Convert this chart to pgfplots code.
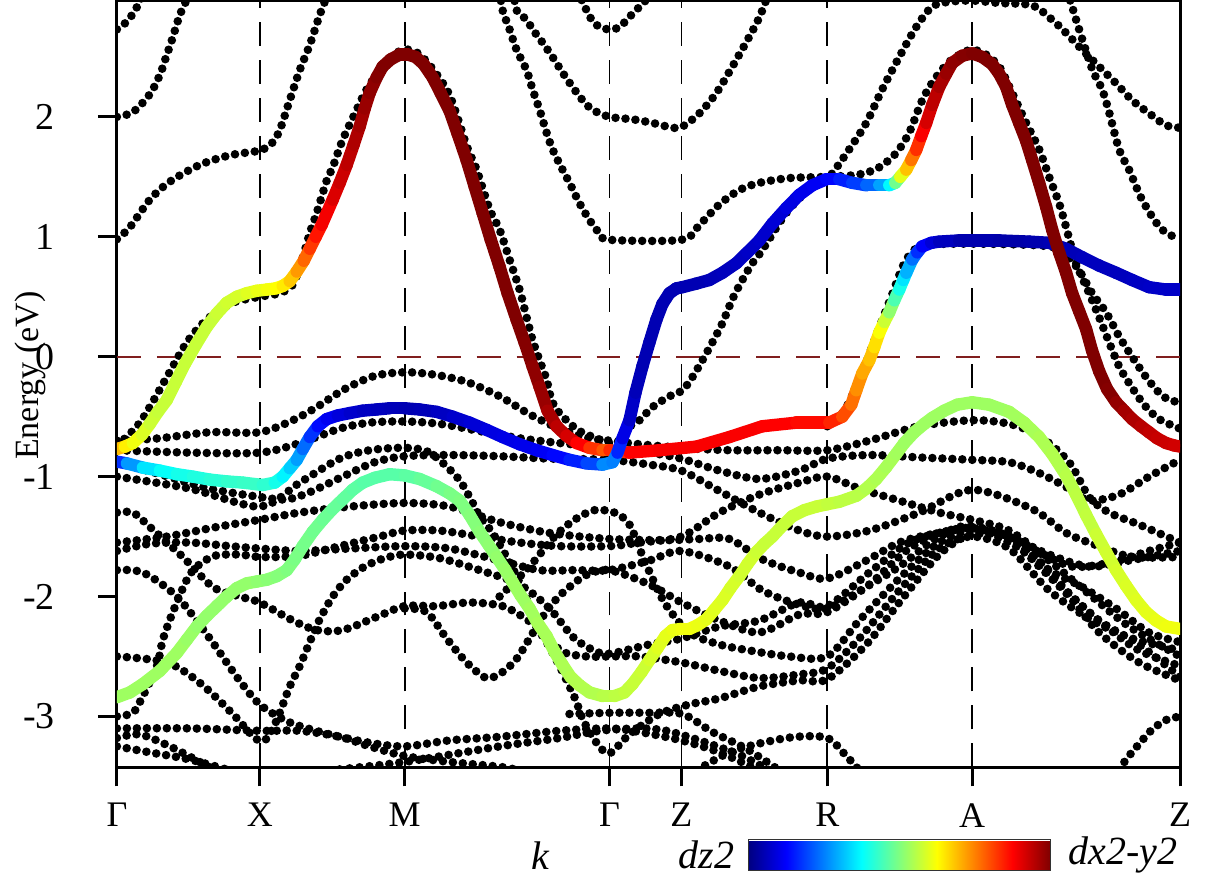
\documentclass[border=0pt]{standalone}
\usepackage{fontspec}
\setmainfont{Liberation Serif}
\usepackage{pgfplots}
\pgfplotsset{compat=1.18}
\definecolor{zerored}{RGB}{128,30,30}
\pgfplotsset{bd/.style={black, line width=4.3pt, line cap=round, dash pattern=on 0pt off 5pt, smooth}}
\pgfplotsset{cb/.style={mesh, point meta=explicit, line width=6.2pt, line cap=round, line join=round}}
\begin{document}
\begin{tikzpicture}
\begin{axis}[
  scale only axis, width=532pt, height=384pt,
  xmin=117, xmax=1181, ymin=-3.425, ymax=2.975,
  xtick={117,260,405,610,682,828,973,1181},
  xticklabels={Γ,X,M,Γ,Z,R,A,Z},
  ytick={-3,-2,-1,0,1,2},
  yticklabels={-3,-2,-1,0,1,2},
  xtick pos=bottom, ytick pos=left,
  tick align=outside, major tick length=9.5pt,
  tick style={line width=1.5pt, black},
  axis line style={line width=1.5pt},
  xticklabel style={font=\fontsize{18}{20}\selectfont, yshift=-5pt},
  yticklabel style={font=\fontsize{19}{21}\selectfont, xshift=-18pt},
  xmajorgrids=true,
  major grid style={dash pattern=on 12pt off 7pt, line width=0.9pt, black},
  colormap/jet,
  point meta min=0, point meta max=1,
  colorbar horizontal,
  colorbar style={
    at={(parent axis.south west)},
    anchor=north west, xshift=316pt, yshift=-27.5pt,
    scale only axis,
    width=151pt, height=15.5pt,
    xtick=\empty,
    axis line style={line width=0.6pt, black!80},
  },
]
\coordinate (bl) at (rel axis cs:0,0);
\addplot[zerored, line width=0.9pt, dash pattern=on 12pt off 8pt] coordinates {(117,0) (1181,0)};

% ---------- upper black bands
\addplot[bd] coordinates {(117,2.73) (125,2.78) (133,2.86) (141,2.98) (143,3.05)};
\addplot[bd] coordinates {(117,2.0) (133,2.04) (150,2.19) (160,2.35) (165,2.47) (172,2.64) (180,2.85) (187,2.98) (190,3.05)};
\addplot[bd] coordinates {(117,0.98) (130,1.08) (150,1.31) (170,1.46) (200,1.6) (230,1.68) (260,1.72) (272,1.78) (280,1.89) (290,2.14) (300,2.39) (310,2.6) (320,2.85) (326,2.98) (330,3.05)};
\addplot[bd] coordinates {(117,-0.74) (140,-0.55) (167,-0.17) (187,0.12) (207,0.31) (233,0.45) (260,0.5) (280,0.53) (293,0.6) (302,0.8) (310,1.03) (317,1.2) (327,1.47) (333,1.58) (343,1.81) (357,2.06) (367,2.23) (383,2.42) (400,2.55) (410,2.56) (420,2.52) (433,2.4) (450,2.18) (467,1.76) (477,1.56) (490,1.23) (500,1.06) (510,0.81) (520,0.56) (527,0.33) (533,0.14) (540,-0.03) (547,-0.19) (552,-0.36) (560,-0.47) (580,-0.62) (610,-0.72)};
\addplot[bd] coordinates {(500,3.05) (503,2.89) (510,2.73) (517,2.56) (527,2.39) (533,2.23) (540,2.06) (547,1.87) (553,1.73) (563,1.56) (570,1.45) (580,1.28) (590,1.14) (600,1.03) (610,0.975) (682,0.975) (700,1.1) (720,1.27) (740,1.39) (760,1.45) (790,1.49) (828,1.5) (860,1.52) (880,1.58) (897,1.7) (910,1.87) (923,2.14) (935,2.31) (950,2.46) (965,2.54) (973,2.56) (985,2.53) (1000,2.42) (1013,2.2) (1027,1.95) (1040,1.73) (1050,1.5) (1060,1.28) (1067,1.08) (1077,0.78) (1090,0.53) (1100,0.33) (1110,0.12) (1120,-0.08) (1130,-0.22) (1145,-0.4) (1160,-0.52) (1181,-0.6)};
\addplot[bd] coordinates {(514,3.05) (517,2.89) (527,2.81) (533,2.73) (543,2.62) (553,2.5) (563,2.37) (573,2.25) (583,2.14) (593,2.06) (610,2.0) (633,1.98) (653,1.95) (673,1.91) (683,1.92) (700,2.03) (717,2.2) (733,2.42) (750,2.67) (760,2.83) (767,2.98) (769,3.05)};
\addplot[bd] coordinates {(578,3.05) (587,2.89) (593,2.8) (600,2.75) (610,2.73) (620,2.75) (633,2.86) (647,2.98) (650,3.05)};
\addplot[bd] coordinates {(610,-0.85) (625,-0.62) (640,-0.53) (653,-0.42) (670,-0.33) (683,-0.28) (693,-0.17) (703,-0.03) (713,0.12) (723,0.28) (733,0.48) (743,0.64) (753,0.78) (763,0.89) (787,1.2) (810,1.4) (828,1.5) (833,1.53) (850,1.73) (867,1.95) (883,2.23) (900,2.5) (917,2.75) (933,2.92) (950,2.96) (973,2.97) (1000,2.95) (1033,2.93) (1053,2.81) (1067,2.7) (1083,2.56) (1100,2.42) (1117,2.28) (1133,2.14) (1150,2.03) (1167,1.93) (1181,1.91)};
\addplot[bd] coordinates {(1068,3.05) (1073,2.92) (1080,2.73) (1093,2.4) (1103,2.23) (1110,2.04) (1120,1.73) (1130,1.56) (1137,1.42) (1143,1.31) (1153,1.17) (1163,1.06) (1177,0.99) (1181,0.98)};
\addplot[bd] coordinates {(828,-0.58) (845,-0.45) (862,-0.15) (878,0.2) (892,0.5) (905,0.78) (918,0.91) (940,0.94) (1000,0.94) (1050,0.92) (1067,0.85) (1080,0.72) (1093,0.53) (1107,0.37) (1120,0.17) (1133,0.0) (1147,-0.17) (1160,-0.3) (1170,-0.36) (1181,-0.38)};

% ---------- lower black bands
\addplot[bd] coordinates {(117,-0.70) (160,-0.68) (210,-0.63) (260,-0.63) (293,-0.53) (317,-0.42) (345,-0.27) (375,-0.16) (405,-0.13) (435,-0.15) (467,-0.21) (500,-0.33) (530,-0.48) (560,-0.6) (590,-0.68) (610,-0.70) (640,-0.73) (682,-0.76) (730,-0.78) (780,-0.78) (828,-0.78) (870,-0.7) (920,-0.58) (973,-0.53) (1010,-0.56) (1040,-0.66) (1070,-0.88) (1090,-1.17) (1110,-1.3) (1140,-1.4) (1181,-1.55)};
\addplot[bd] coordinates {(117,-0.78) (190,-0.80) (260,-0.80) (300,-0.72) (340,-0.6) (370,-0.55) (405,-0.54) (440,-0.56) (480,-0.62) (520,-0.68) (560,-0.72) (610,-0.76) (650,-0.8) (682,-0.85) (720,-0.95) (760,-1.02) (800,-0.95) (828,-0.85) (870,-0.82) (920,-0.84) (973,-0.86) (1010,-0.88) (1040,-0.97) (1070,-1.1) (1090,-1.2) (1120,-1.15) (1150,-1.0) (1181,-0.86)};
\addplot[bd] coordinates {(117,-0.88) (160,-0.98) (210,-1.1) (260,-1.17) (287,-1.19) (310,-1.13) (343,-1.0) (375,-0.88) (405,-0.83) (450,-0.82) (500,-0.83) (550,-0.85) (610,-0.86) (650,-0.9) (682,-0.95) (720,-1.12) (760,-1.3) (800,-1.45) (828,-1.5) (870,-1.45) (920,-1.3) (973,-1.11) (1033,-1.27) (1067,-1.47) (1100,-1.58) (1133,-1.67) (1181,-1.67)};
\addplot[bd] coordinates {(117,-1.0) (190,-1.1) (260,-1.25) (300,-1.05) (340,-0.85) (370,-0.78) (405,-0.76) (430,-0.8) (457,-1.0) (470,-1.17) (480,-1.33) (493,-1.47) (507,-1.67) (517,-1.83) (527,-2.02) (537,-2.25) (547,-2.38) (560,-2.58) (570,-2.75) (577,-2.88) (583,-3.02) (593,-3.17) (603,-3.28) (612,-3.3) (630,-3.15) (660,-2.98) (690,-2.9) (720,-2.85) (760,-2.75) (800,-2.7) (828,-2.69) (867,-2.4) (900,-2.05) (940,-1.65) (973,-1.48) (1010,-1.52) (1040,-1.75) (1070,-2.0) (1100,-2.3) (1140,-2.55) (1181,-2.7)};
\addplot[bd] coordinates {(117,-1.30) (133,-1.30) (150,-1.42) (183,-1.67) (213,-1.92) (240,-2.0) (260,-2.05) (293,-2.2) (317,-2.28) (343,-2.28) (377,-2.17) (405,-2.08) (437,-2.08) (470,-2.05) (503,-2.08) (527,-2.19) (543,-2.3) (563,-2.46) (587,-2.5) (610,-2.5) (640,-2.5) (682,-2.55) (720,-2.62) (760,-2.68) (800,-2.65) (828,-2.6) (860,-2.35) (900,-1.95) (940,-1.6) (973,-1.5) (1010,-1.6) (1050,-1.95) (1093,-2.2) (1133,-2.35) (1181,-2.45)};
\addplot[bd] coordinates {(117,-1.55) (167,-1.5) (217,-1.42) (260,-1.36) (300,-1.3) (350,-1.25) (405,-1.22) (450,-1.25) (500,-1.38) (550,-1.47) (610,-1.52) (667,-1.53) (700,-1.52) (730,-1.52) (763,-1.69) (800,-1.8) (828,-1.85) (867,-1.7) (900,-1.55) (933,-1.48) (973,-1.44) (1017,-1.55) (1050,-1.78) (1083,-1.92) (1117,-2.1) (1150,-2.3) (1181,-2.38)};
\addplot[bd] coordinates {(117,-1.62) (150,-1.56) (190,-1.55) (230,-1.58) (260,-1.6) (300,-1.62) (350,-1.6) (405,-1.58) (450,-1.6) (500,-1.7) (540,-1.78) (575,-1.78) (610,-1.78) (650,-1.7) (682,-1.62) (730,-1.75) (763,-1.95) (800,-2.07) (828,-2.1) (867,-1.92) (900,-1.75) (940,-1.5) (973,-1.42) (1010,-1.5) (1040,-1.7) (1073,-2.0) (1107,-2.25) (1140,-2.45) (1181,-2.58)};
\addplot[bd] coordinates {(117,-1.78) (143,-1.8) (177,-2.0) (210,-2.35) (237,-2.67) (260,-2.9) (290,-3.05) (330,-3.15) (370,-3.22) (405,-3.25) (450,-3.2) (500,-3.17) (560,-3.12) (610,-3.1) (640,-3.13) (682,-3.2) (720,-3.3) (760,-3.45)};
\addplot[bd] coordinates {(117,-3.0) (133,-2.97) (143,-2.83) (157,-2.58) (163,-2.36) (173,-2.13) (187,-1.86) (197,-1.75) (215,-1.66) (240,-1.65) (260,-1.67) (300,-1.66) (340,-1.58) (380,-1.5) (405,-1.45) (440,-1.45) (480,-1.5) (520,-1.55) (560,-1.58) (610,-1.58) (640,-1.55) (682,-1.5) (720,-1.3) (760,-1.15) (800,-1.05) (828,-1.0) (860,-1.1) (900,-1.2) (940,-1.3) (973,-1.36) (1010,-1.45) (1050,-1.7) (1090,-1.98) (1130,-2.25) (1181,-2.5)};
\addplot[bd] coordinates {(117,-3.1) (190,-3.1) (260,-3.12) (300,-3.12) (340,-3.17) (370,-3.25) (405,-3.33) (450,-3.38) (500,-3.42) (520,-3.45)};
\addplot[bd] coordinates {(117,-2.5) (167,-2.55) (200,-2.72) (233,-2.98) (255,-3.18) (265,-3.2) (273,-3.1) (280,-2.97) (290,-2.75) (300,-2.58) (310,-2.38) (320,-2.19) (333,-2.0) (347,-1.86) (365,-1.75) (385,-1.68) (405,-1.65) (440,-1.68) (480,-1.78) (520,-1.9) (550,-2.1) (575,-2.35) (600,-2.47) (615,-2.47) (650,-2.4) (682,-2.35) (720,-2.25) (760,-2.2) (800,-2.05) (828,-2.08) (870,-1.8) (910,-1.55) (950,-1.45) (973,-1.43) (1010,-1.5) (1050,-1.65) (1090,-1.75) (1130,-1.7) (1181,-1.62)};
\addplot[bd] coordinates {(405,-2.1) (427,-2.13) (447,-2.35) (467,-2.55) (487,-2.68) (503,-2.63) (517,-2.52) (530,-2.35) (543,-2.17) (557,-2.02) (570,-1.92) (587,-1.82) (610,-1.78) (650,-1.9) (682,-2.05) (720,-2.2) (760,-2.3) (800,-2.15) (828,-2.13) (870,-1.9) (910,-1.6) (950,-1.45) (973,-1.42) (1020,-1.6) (1060,-1.9) (1100,-2.2) (1140,-2.4) (1181,-2.67)};
\addplot[bd] coordinates {(500,-2.0) (530,-1.75) (555,-1.5) (575,-1.36) (595,-1.28) (615,-1.3) (630,-1.4) (645,-1.7) (665,-2.05) (690,-2.3) (720,-2.4) (750,-2.45) (790,-2.5) (828,-2.5) (860,-2.2) (900,-1.85) (940,-1.55) (973,-1.45) (1010,-1.5) (1040,-1.63) (1073,-1.75) (1110,-1.72) (1150,-1.62) (1181,-1.55)};
\addplot[bd] coordinates {(570,-2.98) (610,-2.97) (650,-2.97) (683,-2.98) (713,-3.13) (747,-3.27) (780,-3.45)};
\addplot[bd] coordinates {(697,-3.45) (730,-3.3) (763,-3.22) (797,-3.17) (828,-3.18) (847,-3.33) (860,-3.45)};
\addplot[bd] coordinates {(1120,-3.45) (1127,-3.36) (1140,-3.23) (1153,-3.11) (1167,-3.03) (1181,-3.0)};
\addplot[bd] coordinates {(117,-3.25) (150,-3.3) (190,-3.36) (230,-3.45)};
\addplot[bd] coordinates {(117,-3.18) (140,-3.15) (170,-3.25) (200,-3.38) (215,-3.45)};
\addplot[bd] coordinates {(330,-3.45) (405,-3.38) (500,-3.25) (560,-3.18) (600,-3.12) (640,-3.1) (667,-3.12) (700,-3.2) (740,-3.32) (770,-3.45)};

% ---------- coloured bands
\addplot[cb] coordinates {(117,-0.77)[0.72] (125,-0.75)[0.66] (133,-0.72)[0.62] (142,-0.65)[0.6] (150,-0.56)[0.58] (158,-0.46)[0.57] (167,-0.36)[0.57] (176,-0.21)[0.57] (185,-0.06)[0.57] (196,0.1)[0.57] (207,0.25)[0.57] (217,0.36)[0.57] (227,0.45)[0.58] (237,0.5)[0.58] (247,0.53)[0.59] (257,0.55)[0.6] (267,0.56)[0.61] (276,0.57)[0.62] (283,0.59)[0.63] (290,0.63)[0.66] (297,0.71)[0.7] (304,0.8)[0.75] (310,0.9)[0.8] (316,1.0)[0.84] (322,1.1)[0.87] (333,1.31)[0.9] (340,1.45)[0.92] (347,1.6)[0.93] (354,1.77)[0.95] (360,1.92)[0.96] (365,2.07)[0.97] (370,2.2)[0.98] (377,2.33)[0.99] (383,2.42)[1] (391,2.48)[1] (400,2.52)[1] (408,2.52)[1] (416,2.5)[1] (424,2.44)[1] (433,2.33)[1] (441,2.2)[1] (450,2.05)[1] (458,1.86)[1] (467,1.64)[1] (475,1.42)[1] (483,1.2)[1] (491,0.98)[1] (500,0.75)[1] (508,0.53)[1] (517,0.31)[1] (525,0.12)[1] (533,-0.08)[0.99] (540,-0.25)[0.98] (548,-0.45)[0.97] (557,-0.58)[0.95] (567,-0.66)[0.93] (577,-0.72)[0.9] (590,-0.76)[0.85] (603,-0.78)[0.8] (610,-0.78)[0.78]};
\addplot[cb] coordinates {(610,-0.78)[0.8] (630,-0.8)[0.87] (660,-0.78)[0.88] (697,-0.75)[0.88] (730,-0.67)[0.88] (763,-0.58)[0.88] (797,-0.55)[0.87] (830,-0.55)[0.86] (843,-0.5)[0.82] (852,-0.4)[0.78] (857,-0.28)[0.75] (863,-0.14)[0.72] (870,-0.03)[0.7] (875,0.08)[0.67] (880,0.2)[0.64] (885,0.29)[0.6] (890,0.37)[0.55] (895,0.47)[0.48] (900,0.56)[0.42] (904,0.64)[0.37] (907,0.7)[0.33] (913,0.81)[0.27] (918,0.87)[0.2] (923,0.92)[0.14] (932,0.95)[0.1] (940,0.96)[0.07] (960,0.97)[0.05] (1000,0.97)[0.04] (1030,0.96)[0.04] (1050,0.95)[0.05] (1067,0.9)[0.05] (1083,0.83)[0.06] (1100,0.76)[0.06] (1117,0.7)[0.06] (1133,0.64)[0.06] (1150,0.58)[0.07] (1167,0.56)[0.07] (1181,0.56)[0.07]};
\addplot[cb] coordinates {(117,-0.875)[0.12] (127,-0.89)[0.22] (143,-0.925)[0.33] (160,-0.95)[0.37] (177,-0.98)[0.39] (193,-1.0)[0.4] (210,-1.025)[0.41] (227,-1.04)[0.42] (243,-1.05)[0.43] (263,-1.07)[0.43] (275,-1.05)[0.41] (283,-1.0)[0.38] (290,-0.93)[0.35] (297,-0.86)[0.3] (303,-0.77)[0.26] (310,-0.67)[0.2] (318,-0.58)[0.15] (327,-0.52)[0.12] (338,-0.49)[0.1] (350,-0.47)[0.08] (363,-0.45)[0.07] (377,-0.44)[0.06] (390,-0.43)[0.06] (405,-0.43)[0.05] (420,-0.44)[0.05] (437,-0.46)[0.06] (453,-0.5)[0.07] (470,-0.55)[0.08] (487,-0.61)[0.09] (503,-0.67)[0.1] (520,-0.73)[0.1] (537,-0.78)[0.11] (553,-0.82)[0.12] (570,-0.86)[0.14] (587,-0.89)[0.17] (603,-0.9)[0.22] (613,-0.88)[0.3]};
\addplot[cb] coordinates {(613,-0.88)[0.3] (618,-0.8)[0.2] (623,-0.68)[0.12] (630,-0.53)[0.08] (636,-0.3)[0.06] (643,-0.08)[0.05] (650,0.12)[0.05] (657,0.31)[0.05] (663,0.44)[0.05] (670,0.53)[0.05] (677,0.57)[0.05] (683,0.58)[0.05] (697,0.61)[0.05] (710,0.64)[0.05] (723,0.7)[0.06] (737,0.78)[0.06] (748,0.87)[0.07] (760,0.97)[0.07] (773,1.11)[0.08] (787,1.24)[0.09] (800,1.35)[0.1] (813,1.43)[0.11] (827,1.48)[0.12] (840,1.48)[0.14] (853,1.45)[0.17] (867,1.43)[0.2] (880,1.43)[0.25] (890,1.43)[0.32] (896,1.45)[0.42] (901,1.5)[0.55] (907,1.56)[0.65] (912,1.64)[0.72] (917,1.725)[0.8] (922,1.84)[0.86] (927,1.95)[0.9] (933,2.1)[0.93] (940,2.25)[0.95] (947,2.36)[0.97] (953,2.45)[0.98] (963,2.51)[0.99] (973,2.53)[1] (983,2.5)[1] (993,2.44)[1] (1000,2.36)[1] (1007,2.25)[1] (1013,2.1)[1] (1020,1.95)[1] (1027,1.8)[1] (1033,1.64)[1] (1040,1.45)[1] (1047,1.25)[1] (1053,1.06)[1] (1060,0.87)[1] (1067,0.7)[1] (1073,0.53)[1] (1080,0.38)[1] (1087,0.23)[1] (1093,0.05)[1] (1100,-0.12)[1] (1108,-0.27)[1] (1117,-0.38)[0.99] (1125,-0.45)[0.97] (1133,-0.52)[0.96] (1142,-0.58)[0.95] (1150,-0.63)[0.94] (1158,-0.68)[0.93] (1167,-0.72)[0.93] (1175,-0.74)[0.92] (1181,-0.75)[0.92]};
\addplot[cb] coordinates {(117,-2.84)[0.53] (130,-2.8)[0.53] (143,-2.73)[0.53] (160,-2.62)[0.53] (177,-2.47)[0.53] (187,-2.36)[0.53] (197,-2.25)[0.52] (207,-2.16)[0.52] (217,-2.08)[0.52] (227,-2.0)[0.52] (237,-1.93)[0.52] (247,-1.89)[0.52] (257,-1.875)[0.52] (267,-1.86)[0.51] (277,-1.83)[0.51] (287,-1.78)[0.5] (295,-1.69)[0.5] (303,-1.58)[0.49] (313,-1.46)[0.49] (323,-1.36)[0.48] (333,-1.27)[0.48] (343,-1.19)[0.47] (353,-1.11)[0.47] (363,-1.05)[0.46] (375,-1.01)[0.46] (390,-0.98)[0.46] (405,-0.99)[0.46] (420,-1.02)[0.47] (437,-1.08)[0.48] (450,-1.14)[0.49] (460,-1.2)[0.5] (470,-1.32)[0.5] (480,-1.46)[0.51] (489,-1.57)[0.51] (497,-1.67)[0.52] (505,-1.77)[0.52] (513,-1.88)[0.53] (521,-1.99)[0.53] (530,-2.1)[0.53] (538,-2.22)[0.54] (547,-2.33)[0.54] (555,-2.46)[0.54] (563,-2.57)[0.54] (571,-2.67)[0.55] (580,-2.74)[0.55] (590,-2.8)[0.55] (603,-2.83)[0.55] (615,-2.83)[0.56] (625,-2.8)[0.56] (633,-2.73)[0.57] (642,-2.63)[0.57] (650,-2.53)[0.58] (658,-2.43)[0.59] (666,-2.33)[0.6] (673,-2.28)[0.6] (682,-2.27)[0.61] (690,-2.27)[0.61] (698,-2.24)[0.61] (707,-2.19)[0.6] (715,-2.11)[0.6] (723,-2.03)[0.59] (731,-1.93)[0.59] (740,-1.83)[0.58] (748,-1.73)[0.58] (757,-1.63)[0.58] (765,-1.56)[0.57] (773,-1.5)[0.57] (783,-1.41)[0.57] (793,-1.33)[0.57] (805,-1.28)[0.57] (817,-1.25)[0.57] (828,-1.23)[0.57] (840,-1.21)[0.56] (857,-1.16)[0.56] (867,-1.1)[0.55] (877,-1.02)[0.55] (887,-0.92)[0.54] (897,-0.81)[0.54] (905,-0.72)[0.53] (915,-0.63)[0.53] (925,-0.56)[0.53] (933,-0.51)[0.53] (945,-0.45)[0.53] (958,-0.4)[0.53] (973,-0.38)[0.53] (990,-0.4)[0.53] (1010,-0.46)[0.53] (1025,-0.55)[0.54] (1040,-0.67)[0.54] (1053,-0.81)[0.55] (1067,-0.99)[0.55] (1077,-1.15)[0.56] (1087,-1.32)[0.56] (1097,-1.48)[0.57] (1107,-1.63)[0.58] (1117,-1.78)[0.58] (1127,-1.91)[0.59] (1137,-2.03)[0.59] (1147,-2.13)[0.6] (1157,-2.2)[0.6] (1167,-2.25)[0.61] (1181,-2.27)[0.61]};
\end{axis}
\node[rotate=90, font=\fontsize{17}{19}\selectfont] at ([shift={(-43.5pt,196pt)}]bl) {Energy (eV)};
\node[font=\fontsize{20}{22}\selectfont\itshape] at ([shift={(212pt,-44pt)}]bl) {k};
\node[font=\fontsize{20}{22}\selectfont\itshape, anchor=east, inner sep=0pt] at ([shift={(309pt,-44pt)}]bl) {dz2};
\node[font=\fontsize{20}{22}\selectfont\itshape, anchor=west, inner sep=0pt] at ([shift={(476pt,-44pt)}]bl) {dx2-y2};
\pgfresetboundingbox
\path ([shift={(-58.5pt,-56pt)}]bl) rectangle ([shift={(544.5pt,384pt)}]bl);
\end{tikzpicture}
\end{document}
